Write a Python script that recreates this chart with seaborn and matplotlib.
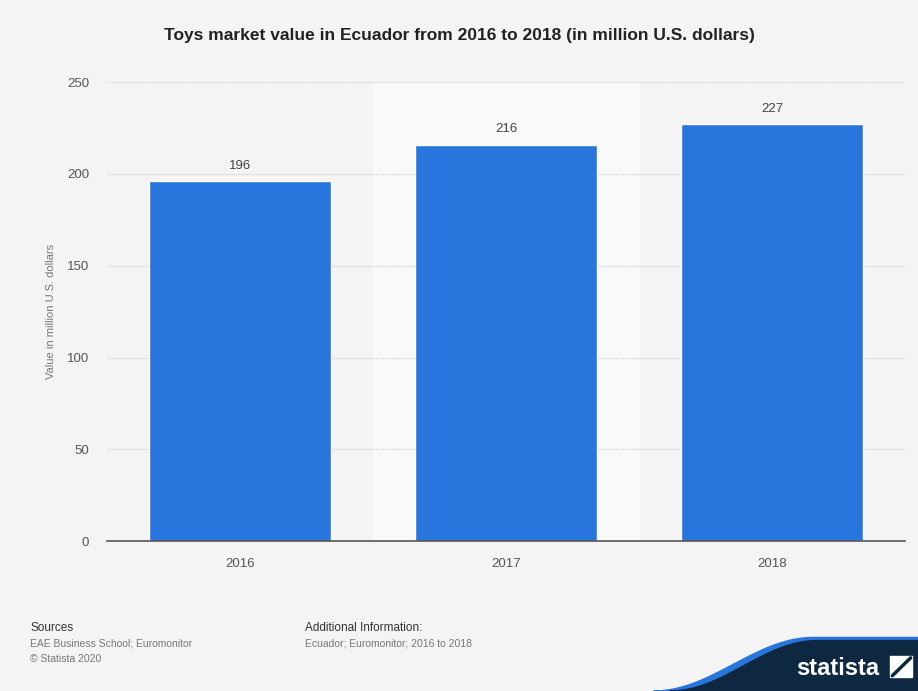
import numpy as np
import pandas as pd
import matplotlib
matplotlib.use('Agg')
import matplotlib.pyplot as plt
import seaborn as sb
from matplotlib.patches import Polygon, Rectangle

years = ['2016', '2017', '2018']
values = [196, 216, 227]
yticks = [0, 50, 100, 150, 200, 250]

bar_color = '#2876dd'
bg = '#f4f4f4'

sb.set_style('white')
plt.rcParams['font.family'] = ['Liberation Sans', 'DejaVu Sans']

df = pd.DataFrame({'year': years, 'value': values})

fig = plt.figure(figsize=(9.18, 6.91), dpi=100, facecolor=bg)
ax = fig.add_axes([0.1166, 0.217, 0.8694, 0.664])
ax.set_facecolor(bg)

# lighter band behind the middle category
ax.axvspan(0.5, 1.5, color='#f9f9f9', zorder=0)

sb.barplot(data=df, x='year', y='value', color=bar_color, width=0.685,
           saturation=1, ax=ax, zorder=3)

for i, v in enumerate(values):
    ax.text(i, v + 5, str(v), ha='center', va='bottom', fontsize=9.5, color='#444444', zorder=4)

ax.set_ylim(0, 250)
ax.set_xlim(-0.5, 2.5)
ax.set_yticks(yticks)
ax.yaxis.grid(True, linestyle=(0, (1, 1)), color='#cccccc', linewidth=0.8, zorder=1)
ax.set_axisbelow(True)
for s in ['top', 'right', 'left']:
    ax.spines[s].set_visible(False)
ax.spines['bottom'].set_color('#555555')
ax.spines['bottom'].set_linewidth(1.2)
ax.spines['bottom'].set_zorder(5)
ax.tick_params(axis='both', length=0, labelsize=9.5, labelcolor='#555555')
ax.tick_params(axis='y', pad=13)
ax.tick_params(axis='x', pad=12)
ax.set_xlabel('')
ax.set_ylabel('Value in million U.S. dollars', fontsize=8, color='#777777', labelpad=8)

fig.text(0.5, 0.949, 'Toys market value in Ecuador from 2016 to 2018 (in million U.S. dollars)',
         ha='center', va='center', fontsize=12.5, fontweight='bold', color='#222222')

fig.text(0.033, 0.091, 'Sources', fontsize=8.5, color='#333333', va='center')
fig.text(0.033, 0.069, 'EAE Business School; Euromonitor', fontsize=7.5, color='#777777', va='center')
fig.text(0.033, 0.047, '\u00a9 Statista 2020', fontsize=7.5, color='#777777', va='center')
fig.text(0.332, 0.091, 'Additional Information:', fontsize=8.5, color='#333333', va='center')
fig.text(0.332, 0.069, 'Ecuador; Euromonitor; 2016 to 2018', fontsize=7.5, color='#777777', va='center')

# statista corner logo: s-shaped swoosh
t = np.linspace(0, 1, 60)
def swoosh(x0, x1, top):
    xs = x0 + (x1 - x0) * t
    ys = top * (1 - np.cos(np.pi * t)) / 2
    pts = list(zip(xs, ys)) + [(1.0, top), (1.0, 0.0)]
    return pts

blue = Polygon(swoosh(0.712, 0.886, 0.0775), closed=True, transform=fig.transFigure,
               color='#2876dd', zorder=0)
navy = Polygon(swoosh(0.730, 0.890, 0.0730), closed=True, transform=fig.transFigure,
               color='#0d2840', zorder=0)
fig.patches.extend([blue, navy])
fig.text(0.913, 0.033, 'statista', fontsize=17, fontweight='bold', color='white',
         ha='center', va='center', fontstretch='condensed')
icon = Rectangle((0.970, 0.020), 0.024, 0.030, transform=fig.transFigure,
                 color='white', zorder=1)
fig.patches.append(icon)
fig.lines.append(plt.Line2D([0.972, 0.992], [0.022, 0.048], transform=fig.transFigure,
                            color='#0d2840', linewidth=2.5, zorder=2))

fig.savefig('out.png', dpi=100, facecolor=bg)
